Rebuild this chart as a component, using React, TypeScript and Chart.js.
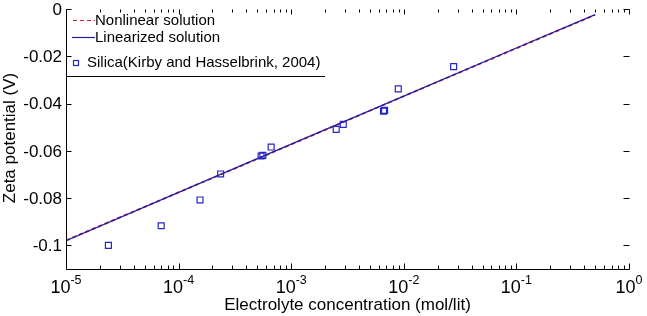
import React, { useEffect, useRef } from "react";
import { Chart, registerables } from "chart.js";

Chart.register(...registerables);

// Model curves: zeta potential (V) vs electrolyte concentration (mol/lit)
const curveConc = [1e-5, 1e-4, 1e-3, 1e-2, 1e-1, 0.5];
const nonlinearZeta = [-0.0979, -0.0776, -0.0573, -0.0369, -0.0166, -0.0025];
const linearizedZeta = [-0.098, -0.0776, -0.0572, -0.0369, -0.0165, -0.0024];

// Measured silica data (Kirby and Hasselbrink, 2004)
const silicaConc = [
  2.38e-5, 7.0e-5, 1.55e-4, 2.36e-4, 5.4e-4, 5.6e-4, 6.64e-4, 2.51e-3, 2.9e-3,
  6.6e-3, 6.75e-3, 8.93e-3, 2.77e-2,
];
const silicaZeta = [
  -0.1, -0.0917, -0.0808, -0.0698, -0.0622, -0.0619, -0.0584, -0.0509, -0.0488,
  -0.0432, -0.0429, -0.0338, -0.0244,
];

// Axis ticks
const yTickValues = [0, -0.02, -0.04, -0.06, -0.08, -0.1];
const yTickLabels = ["0", "-0.02", "-0.04", "-0.06", "-0.08", "-0.1"];
const xDecadeExponents = [-5, -4, -3, -2, -1, 0];
const xTickBase = "10";
const xTickExponents = ["-5", "-4", "-3", "-2", "-1", "0"];

const legendLabels = [
  "Nonlinear solution",
  "Linearized solution",
  "Silica(Kirby and Hasselbrink, 2004)",
];
const xTitle = "Electrolyte concentration (mol/lit)";
const yTitle = "Zeta potential (V)";

const FONT = '"Liberation Sans", Arial, Helvetica, sans-serif';
const RED = "#d42020";
const BLUE_LINE = "#1f1fa8";
const BLUE_MARK = "#2626cc";

const toXY = (xs: number[], ys: number[]) => xs.map((x, i) => ({ x, y: ys[i] }));

const decorations = {
  id: "matlabAxes",
  afterDraw(chart: any) {
    const { ctx, chartArea } = chart;
    const xs = chart.scales.x;
    const ys = chart.scales.y;
    const L = Math.round(chartArea.left) + 0.5;
    const R = Math.round(chartArea.right) + 0.5;
    const T = Math.round(chartArea.top) + 0.5;
    const B = Math.round(chartArea.bottom) + 0.5;

    ctx.save();
    ctx.strokeStyle = "#000";
    ctx.fillStyle = "#000";
    ctx.lineWidth = 1;

    // axis lines (left and bottom)
    ctx.beginPath();
    ctx.moveTo(L, T);
    ctx.lineTo(L, B);
    ctx.lineTo(R, B);
    ctx.stroke();

    // x ticks (log decades with minor ticks), bottom and top
    ctx.beginPath();
    xDecadeExponents.forEach((e) => {
      const px = Math.round(xs.getPixelForValue(Math.pow(10, e))) + 0.5;
      ctx.moveTo(px, B);
      ctx.lineTo(px, B - 6);
      ctx.moveTo(px, T);
      ctx.lineTo(px, T + 5);
      if (e < 0) {
        for (let m = 2; m <= 9; m++) {
          const mx = Math.round(xs.getPixelForValue(m * Math.pow(10, e))) + 0.5;
          ctx.moveTo(mx, B);
          ctx.lineTo(mx, B - 4);
          ctx.moveTo(mx, T);
          ctx.lineTo(mx, T + 3);
        }
      }
    });
    // y ticks, left and right
    yTickValues.forEach((v) => {
      const py = Math.round(ys.getPixelForValue(v)) + 0.5;
      ctx.moveTo(L, py);
      ctx.lineTo(L + 5, py);
      ctx.moveTo(R, py);
      ctx.lineTo(R - 6, py);
    });
    ctx.stroke();

    // y tick labels
    ctx.font = `17px ${FONT}`;
    ctx.textAlign = "right";
    ctx.textBaseline = "middle";
    yTickValues.forEach((v, i) => {
      ctx.fillText(yTickLabels[i], L - 4.5, ys.getPixelForValue(v) + 1);
    });

    // x tick labels: 10 with superscript exponent
    ctx.textBaseline = "alphabetic";
    ctx.textAlign = "left";
    xDecadeExponents.forEach((e, i) => {
      const px = xs.getPixelForValue(Math.pow(10, e));
      ctx.font = `18px ${FONT}`;
      const wb = ctx.measureText(xTickBase).width;
      ctx.font = `12.5px ${FONT}`;
      const we = ctx.measureText(xTickExponents[i]).width;
      const x0 = px - (wb + we) / 2;
      ctx.font = `18px ${FONT}`;
      ctx.fillText(xTickBase, x0, 292.5);
      ctx.font = `12.5px ${FONT}`;
      ctx.fillText(xTickExponents[i], x0 + wb, 284);
    });

    // axis titles
    ctx.font = `17px ${FONT}`;
    ctx.textAlign = "center";
    ctx.textBaseline = "middle";
    ctx.fillText(xTitle, (chartArea.left + chartArea.right) / 2, 305);
    ctx.save();
    ctx.translate(10, 138);
    ctx.rotate(-Math.PI / 2);
    ctx.fillText(yTitle, 0, 0);
    ctx.restore();

    // legend
    ctx.textAlign = "left";
    ctx.font = `15px ${FONT}`;
    ctx.lineWidth = 1.2;
    ctx.strokeStyle = RED;
    ctx.setLineDash([4, 3]);
    ctx.beginPath();
    ctx.moveTo(73, 20.5);
    ctx.lineTo(95, 20.5);
    ctx.stroke();
    ctx.setLineDash([]);
    ctx.strokeStyle = BLUE_LINE;
    ctx.beginPath();
    ctx.moveTo(72, 37.5);
    ctx.lineTo(95, 37.5);
    ctx.stroke();
    ctx.strokeStyle = BLUE_MARK;
    ctx.strokeRect(73.5, 60.5, 5, 5);
    ctx.fillStyle = "#000";
    ctx.fillText(legendLabels[0], 95, 21);
    ctx.fillText(legendLabels[1], 95, 38);
    ctx.fillText(legendLabels[2], 87, 63);
    ctx.strokeStyle = "#000";
    ctx.lineWidth = 1;
    ctx.beginPath();
    ctx.moveTo(L, 76.5);
    ctx.lineTo(325, 76.5);
    ctx.stroke();

    ctx.restore();
  },
};

export default function App() {
  const canvasRef = useRef<HTMLCanvasElement | null>(null);

  useEffect(() => {
    if (!canvasRef.current) return;
    const chart = new Chart(canvasRef.current, {
      type: "scatter",
      data: {
        datasets: [
          {
            label: legendLabels[2],
            data: toXY(silicaConc, silicaZeta),
            showLine: false,
            pointStyle: "rect",
            pointRadius: 4.2,
            pointBorderWidth: 1.2,
            pointBorderColor: BLUE_MARK,
            pointBackgroundColor: "rgba(0,0,0,0)",
          },
          {
            label: legendLabels[1],
            data: toXY(curveConc, linearizedZeta),
            showLine: true,
            borderColor: BLUE_LINE,
            borderWidth: 1.3,
            pointRadius: 0,
          },
          {
            label: legendLabels[0],
            data: toXY(curveConc, nonlinearZeta),
            showLine: true,
            borderColor: RED,
            borderWidth: 1.8,
            borderDash: [4, 3],
            pointRadius: 0,
          },
        ],
      },
      options: {
        animation: false,
        responsive: true,
        maintainAspectRatio: false,
        layout: { padding: { left: 66, right: 18, top: 9, bottom: 47 } },
        plugins: {
          legend: { display: false },
          tooltip: { enabled: false },
        },
        scales: {
          x: { type: "logarithmic", min: 1e-5, max: 1, display: false },
          y: { type: "linear", min: -0.11, max: 0, display: false },
        },
      },
      plugins: [decorations],
    });
    return () => chart.destroy();
  }, []);

  return (
    <div
      style={{
        position: "fixed",
        left: 0,
        top: 0,
        width: 647,
        height: 316,
        background: "#fff",
      }}
    >
      <canvas ref={canvasRef} />
    </div>
  );
}
